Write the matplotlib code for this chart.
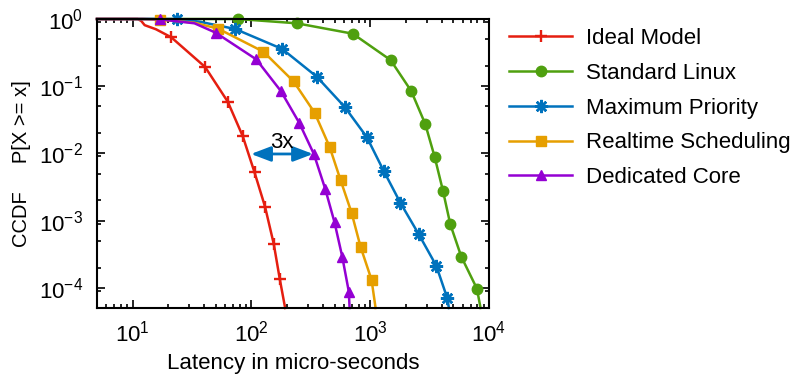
import numpy as np
import matplotlib
matplotlib.use("Agg")
from matplotlib import pyplot as plt
from matplotlib.ticker import LogLocator, FixedLocator, FuncFormatter, NullFormatter

plt.rcParams["font.family"] = ["Liberation Sans", "DejaVu Sans"]
plt.rcParams["mathtext.fontset"] = "custom"
plt.rcParams["mathtext.rm"] = "Liberation Sans"
plt.rcParams["mathtext.default"] = "regular"

# latency (us) vs P[X >= x]; marker points listed in marks
ideal_x = [5, 11.0, 11.8, 12.6, 15.7, 21.1, 40.7, 63.1, 84.5, 106, 130, 154, 173, 192]
ideal_y = [1, 1, 0.934, 0.81, 0.703, 0.534, 0.193, 0.0588, 0.0179, 0.00523, 0.00161, 4.49e-4, 1.35e-4, 5e-5]
linux_x = [5, 76.7, 241, 713, 1483, 2213, 2904, 3483, 4093, 4721, 5845, 7913, 8490]
linux_y = [1, 1, 0.863, 0.604, 0.245, 0.0848, 0.0274, 0.00893, 0.00279, 8.81e-4, 2.9e-4, 9.7e-5, 5e-5]
maxprio_x = [5, 23.5, 36.5, 72.9, 181.5, 355, 607, 935, 1295, 1790, 2553, 3597, 4455, 4595]
maxprio_y = [1, 1, 0.912, 0.71, 0.358, 0.138, 0.0495, 0.0175, 0.00553, 0.00185, 6.32e-4, 2.13e-4, 6.98e-5, 5e-5]
rt_x = [5, 12, 16.8, 33.1, 52.4, 126, 226, 340, 454, 562, 696, 828, 1026, 1109]
rt_y = [1, 1, 0.98, 0.88, 0.717, 0.326, 0.118, 0.0403, 0.0126, 0.00402, 0.00131, 4.09e-4, 1.31e-4, 5e-5]
core_x = [5, 12, 16.8, 33.1, 50.0, 109.6, 176.6, 252, 335, 418, 500, 581, 660, 670]
core_y = [1, 1, 0.99, 0.863, 0.625, 0.251, 0.0848, 0.0286, 0.0098, 0.00295, 9.44e-4, 2.9e-4, 8.75e-5, 5e-5]

labels = ["Ideal Model", "Standard Linux", "Maximum Priority", "Realtime Scheduling", "Dedicated Core"]
marks = [[5, 6, 7, 8, 9, 10, 11, 12],
         [1, 2, 3, 4, 5, 6, 7, 8, 9, 10, 11],
         [1, 3, 4, 5, 6, 7, 8, 9, 10, 11, 12],
         [2, 4, 5, 6, 7, 8, 9, 10, 11, 12],
         [2, 4, 5, 6, 7, 8, 9, 10, 11, 12]]

# "3x" gap at P = 1e-2
gap_from, gap_to, gap_p = 99, 330, 0.0098

series = [(ideal_x, ideal_y), (linux_x, linux_y), (maxprio_x, maxprio_y), (rt_x, rt_y), (core_x, core_y)]
colors = ["#e51e10", "#4fa00f", "#0072bd", "#e69f00", "#9400d3"]
styles = [dict(marker="+", ms=8.5, mew=1.7),
          dict(marker="o", ms=7.5),
          dict(marker=(8, 2, 0), ms=9.5, mew=1.8),
          dict(marker="s", ms=7.5),
          dict(marker="^", ms=7)]

fig = plt.figure(figsize=(7.92, 3.75), dpi=100)
ax = fig.add_axes([97 / 792, 1 - 308 / 375, (489 - 97) / 792, (308 - 19) / 375])

handles = []
for (x, y), lab, c, st, mk in zip(series, labels, colors, styles, marks):
    h, = ax.plot(x, y, color=c, lw=1.8, markevery=mk, label=lab, clip_on=False, **st)
    handles.append(h)

ax.set_xscale("log")
ax.set_yscale("log")
ax.set_xlim(5, 1e4)
ax.set_ylim(5e-5, 1)

ax.xaxis.set_major_locator(FixedLocator([10, 100, 1000, 10000]))
ax.xaxis.set_minor_locator(LogLocator(base=10, subs=np.arange(2, 10), numticks=20))
ax.yaxis.set_major_locator(FixedLocator([1e-4, 1e-3, 1e-2, 1e-1, 1]))
ax.yaxis.set_minor_locator(LogLocator(base=10, subs=[2, 5, 9], numticks=20))
fmt = FuncFormatter(lambda v, p: "$10^{%d}$" % int(round(np.log10(v))))
ax.xaxis.set_major_formatter(fmt)
ax.yaxis.set_major_formatter(fmt)
ax.xaxis.set_minor_formatter(NullFormatter())
ax.yaxis.set_minor_formatter(NullFormatter())
ax.tick_params(which="both", direction="in", top=True, right=True, width=1.2, labelsize=16)
ax.tick_params(which="major", length=5.5)
ax.tick_params(which="minor", length=3)
ax.tick_params(axis="x", pad=9)
ax.tick_params(axis="y", pad=10)
for s in ax.spines.values():
    s.set_linewidth(1.5)

ax.set_xlabel("Latency in micro-seconds", fontsize=16, labelpad=5)
ax.set_ylabel("CCDF     P[X >= x]", fontsize=14.5, labelpad=6)

ax.annotate("", xy=(gap_from, gap_p), xytext=(gap_to, gap_p),
            arrowprops=dict(arrowstyle="<|-|>,head_length=1.0,head_width=0.38",
                            mutation_scale=12, color="#0072bd", lw=2,
                            shrinkA=0, shrinkB=0))
ax.text(179, 0.0119, "3x", fontsize=16, ha="center", va="baseline")

fig.legend(handles, labels, loc="upper left", bbox_to_anchor=(509 / 792, 1 - 28 / 375),
           frameon=False, fontsize=16, handlelength=2.85, handletextpad=0.6,
           labelspacing=0.62, borderpad=0, borderaxespad=0)

fig.savefig("out.png", dpi=100)
